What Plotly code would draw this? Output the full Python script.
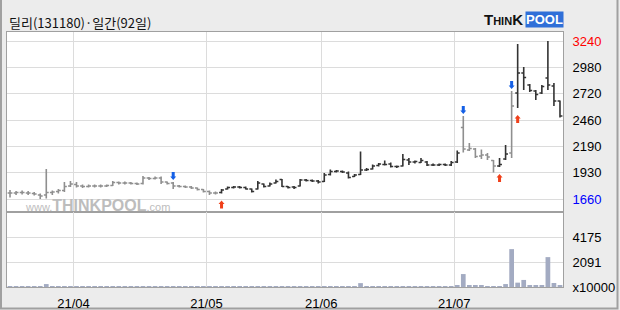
import numpy as np
import plotly.graph_objects as go
from plotly.subplots import make_subplots

# ---------------- data ----------------
title_text = "딜리(131180)·일간(92일)"
month_labels = ["21/04", "21/05", "21/06", "21/07"]
month_first_bar = [11, 33, 52, 74]

opens = [1720, 1720, 1725, 1720, 1715, 1700, 1700, 1725, 1735, 1745,
         1790, 1805, 1790, 1785, 1790, 1790, 1790, 1795, 1825, 1820,
         1820, 1815, 1815, 1870, 1865, 1870, 1830, 1820, 1790, 1785,
         1780, 1770, 1755, 1735, 1720, 1725, 1760, 1775, 1780, 1775,
         1760, 1760, 1810, 1790, 1820, 1855, 1785, 1780, 1790, 1850,
         1845, 1840, 1835, 1905, 1935, 1935, 1920, 1885, 1905, 1950,
         1960, 1995, 2005, 2010, 1985, 1990, 2050, 2030, 2025, 2030,
         2000, 2000, 2005, 2000, 2030, 2375, 2150, 2160, 2090, 2100,
         2045, 1990, 2060, 2120, 2720, 2920, 2800, 2740, 2720, 2870,
         2790, 2640]
highs = [1750, 1740, 1745, 1740, 1730, 1715, 1960, 1745, 1760, 1830,
         1840, 1830, 1805, 1805, 1805, 1805, 1805, 1840, 1835, 1835,
         1830, 1825, 1890, 1880, 1885, 1885, 1835, 1830, 1800, 1795,
         1790, 1775, 1760, 1745, 1735, 1760, 1785, 1790, 1790, 1785,
         1765, 1840, 1815, 1825, 1855, 1860, 1790, 1790, 1860, 1860,
         1855, 1850, 1920, 1955, 1950, 1945, 1935, 1910, 2135, 1970,
         2005, 2020, 2045, 2025, 1995, 2110, 2070, 2045, 2070, 2040,
         2015, 2015, 2015, 2040, 2145, 2490, 2220, 2170, 2155, 2120,
         2050, 2070, 2200, 2740, 3210, 2980, 2810, 2750, 2800, 3240,
         2820, 2645]
lows = [1675, 1700, 1705, 1700, 1695, 1660, 1665, 1700, 1715, 1730,
        1780, 1775, 1770, 1775, 1775, 1775, 1780, 1790, 1805, 1805,
        1805, 1800, 1805, 1850, 1855, 1810, 1805, 1760, 1775, 1770,
        1760, 1745, 1725, 1700, 1705, 1715, 1755, 1765, 1765, 1755,
        1725, 1755, 1775, 1785, 1815, 1780, 1765, 1760, 1785, 1835,
        1830, 1815, 1830, 1895, 1925, 1920, 1865, 1880, 1900, 1940,
        1955, 1985, 1995, 1975, 1970, 1985, 2000, 2015, 2020, 1990,
        1990, 1990, 1990, 1990, 2020, 2125, 2140, 2070, 2060, 2050,
        1925, 1980, 2050, 2070, 2570, 2750, 2730, 2650, 2710, 2750,
        2590, 2475]
closes = [1720, 1725, 1725, 1720, 1710, 1690, 1725, 1730, 1745, 1785,
          1810, 1790, 1785, 1790, 1790, 1790, 1795, 1825, 1820, 1820,
          1815, 1810, 1870, 1865, 1870, 1830, 1815, 1790, 1785, 1780,
          1770, 1755, 1735, 1720, 1720, 1750, 1775, 1780, 1775, 1760,
          1735, 1820, 1785, 1810, 1835, 1785, 1775, 1775, 1850, 1845,
          1840, 1830, 1900, 1935, 1940, 1930, 1875, 1900, 1950, 1955,
          1990, 2010, 2005, 1985, 1985, 2055, 2030, 2035, 2045, 2000,
          2000, 2005, 2000, 2025, 2120, 2160, 2165, 2085, 2100, 2080,
          1990, 2005, 2110, 2590, 2920, 2875, 2745, 2705, 2785, 2800,
          2640, 2490]
volumes = [50, 45, 55, 40, 50, 60, 250, 60, 45, 55,
           50, 45, 40, 50, 45, 50, 40, 60, 45, 40,
           45, 40, 60, 45, 40, 50, 45, 55, 45, 40,
           40, 45, 50, 40, 45, 55, 45, 40, 40, 45,
           50, 60, 45, 40, 50, 50, 40, 45, 60, 45,
           40, 40, 60, 55, 45, 40, 50, 45, 330, 65,
           60, 55, 50, 50, 45, 65, 50, 45, 55, 45,
           40, 45, 40, 50, 120, 1100, 170, 170, 170, 70,
           80, 70, 250, 3220, 370, 600, 170, 170, 170, 2540,
           340, 170]

sell_signals = [27, 75, 83]
buy_signals = [35, 81, 84]

price_tick_labels = ["3240", "2980", "2720", "2460", "2190", "1930", "1660"]
vol_tick_labels = ["x10000", "2091", "4175"]
vol_tick_values = [0, 2091, 4175]

# ---------------- geometry / style ----------------
W, H = 620, 310
ML, MR, MT, MB = 7, 57, 32, 23
PW, PH = W - ML - MR, H - MT - MB
VOL_PX = 75
BG = "#ececec"
GRID = "#dcdcdc"
FRAME = "#a0a0a0"
GRAY_BAR = "#8f8f8f"
DARK_BAR = "#333333"
VOL_COLOR = "#a3abc2"
FONT = "Liberation Sans Narrow, Liberation Sans, Arial, sans-serif"


def px_x(px):
    return (px - ML) / PW


def px_y(py):
    return (H - MB - py) / PH


n = len(closes)
idx = list(range(n))

# state: gray after sell signal, dark after buy signal (initial state = sell)
ev = dict([(i, "s") for i in sell_signals] + [(i, "b") for i in buy_signals])
state = "s"
dark = []
for i in idx:
    if i in ev:
        state = ev[i]
    dark.append(state == "b")

fig = make_subplots(rows=2, cols=1, shared_xaxes=True, vertical_spacing=0,
                    row_heights=[(PH - VOL_PX) / PH, VOL_PX / PH])


def subset(mask):
    xs = [i for i in idx if mask[i]]
    return (xs, [opens[i] for i in xs], [highs[i] for i in xs],
            [lows[i] for i in xs], [closes[i] for i in xs])


for mask, col in [([not d for d in dark], GRAY_BAR), (dark, DARK_BAR)]:
    xs, o, h, l, c = subset(mask)
    fig.add_trace(go.Ohlc(x=xs, open=o, high=h, low=l, close=c,
                          increasing=dict(line=dict(color=col, width=1.6)),
                          decreasing=dict(line=dict(color=col, width=1.6)),
                          tickwidth=0.4, showlegend=False, hoverinfo="skip"),
                  row=1, col=1)

fig.add_trace(go.Bar(x=idx, y=volumes, marker=dict(color=VOL_COLOR, line=dict(width=0)),
                     showlegend=False, hoverinfo="skip"), row=2, col=1)

# signal arrows
down_path = "M 0,2 L -3,5.5 L -1.5,5.5 L -1.5,10 L 1.5,10 L 1.5,5.5 L 3,5.5 Z"
up_path = "M 0,-7 L -3,-10.5 L -1.5,-10.5 L -1.5,-15 L 1.5,-15 L 1.5,-10.5 L 3,-10.5 Z"
shapes = []
for i in sell_signals:
    shapes.append(dict(type="path", xref="x", yref="y", xsizemode="pixel", ysizemode="pixel",
                       xanchor=i, yanchor=highs[i], path=down_path,
                       fillcolor="#1560e6", line=dict(width=0)))
for i in buy_signals:
    shapes.append(dict(type="path", xref="x", yref="y", xsizemode="pixel", ysizemode="pixel",
                       xanchor=i, yanchor=lows[i], path=up_path,
                       fillcolor="#f0401a", line=dict(width=0)))
# outer frame
shapes.append(dict(type="rect", xref="paper", yref="paper", x0=px_x(1), x1=px_x(617.5),
                   y0=px_y(308.5), y1=px_y(-5), line=dict(color=FRAME, width=2), layer="below"))
fig.update_layout(shapes=shapes)

# axes
grid_x = [b - 0.5 for b in month_first_bar]
for r in (1, 2):
    fig.update_xaxes(range=[-0.5, n - 0.5], tickvals=grid_x, showgrid=True, gridcolor=GRID,
                     gridwidth=1, showline=True, mirror=True, linecolor=FRAME, linewidth=1,
                     zeroline=False, rangeslider=dict(visible=False), automargin=False,
                     row=r, col=1)
fig.update_xaxes(showticklabels=False, ticks="", row=1, col=1)
fig.update_xaxes(ticktext=month_labels, ticks="outside", ticklen=4, tickcolor="rgba(0,0,0,0)",
                 tickfont=dict(family=FONT, size=13, color="#000"), row=2, col=1)

pmin, pmax = float(price_tick_labels[-1]), float(price_tick_labels[0])
ptv = list(np.linspace(pmax, pmin, len(price_tick_labels)))
ptt = []
for k, t in enumerate(price_tick_labels):
    if k == 0:
        ptt.append(f"<span style='color:#ff0000'>{t}</span>")
    elif k == len(price_tick_labels) - 1:
        ptt.append(f"<span style='color:#0000ff'>{t}</span>")
    else:
        ptt.append(t)
step = (pmax - pmin) / (len(price_tick_labels) - 1)
fig.update_yaxes(side="right", range=[pmin - step * 13 / 26.33, pmax + step * 9 / 26.33],
                 tickvals=ptv, ticktext=ptt, showgrid=True, gridcolor=GRID,
                 showline=True, mirror=True, linecolor=FRAME, zeroline=False,
                 ticks="outside", ticklen=6, tickcolor="rgba(0,0,0,0)", automargin=False,
                 tickfont=dict(family=FONT, size=13, color="#000"), row=1, col=1)
vstep = vol_tick_values[1] / 24.6
fig.update_yaxes(side="right", range=[0, VOL_PX * vstep], tickvals=vol_tick_values,
                 ticktext=vol_tick_labels, showgrid=True, gridcolor=GRID,
                 showline=True, mirror=True, linecolor=FRAME, zeroline=False,
                 ticks="outside", ticklen=6, tickcolor="rgba(0,0,0,0)", automargin=False,
                 tickfont=dict(family=FONT, size=13, color="#000"), row=2, col=1)

annotations = [
    dict(text=title_text, xref="paper", yref="paper", x=px_x(7), y=px_y(22.5),
         xanchor="left", yanchor="middle", showarrow=False,
         font=dict(family="Noto Sans CJK KR", size=13, color="#111")),
    dict(text="<b>T<span style='font-size:11px'>HIN</span>K</b>", xref="paper", yref="paper",
         x=px_x(525), y=px_y(20), xanchor="right", yanchor="middle", showarrow=False,
         font=dict(family="Liberation Sans", size=15, color="#111")),
    dict(text="<b>POOL</b>", xref="paper", yref="paper",
         x=px_x(525), y=px_y(20), xanchor="left", yanchor="middle", showarrow=False,
         bgcolor="#2f6fd8", borderpad=0,
         font=dict(family="Liberation Sans", size=13, color="#ffffff")),
    dict(text="<span style='font-size:11px'>www.</span><b>THINKPOOL</b><span style='font-size:11px'>.com</span>",
         xref="paper", yref="paper", x=px_x(23), y=px_y(205), xanchor="left", yanchor="middle",
         showarrow=False, font=dict(family="Liberation Sans", size=16, color="#bdbdbd")),
]
fig.update_layout(annotations=annotations, width=W, height=H,
                  margin=dict(l=ML, r=MR, t=MT, b=MB, pad=0),
                  paper_bgcolor=BG, plot_bgcolor="#ffffff", bargap=0.22,
                  showlegend=False)

fig.write_html("out.html")
